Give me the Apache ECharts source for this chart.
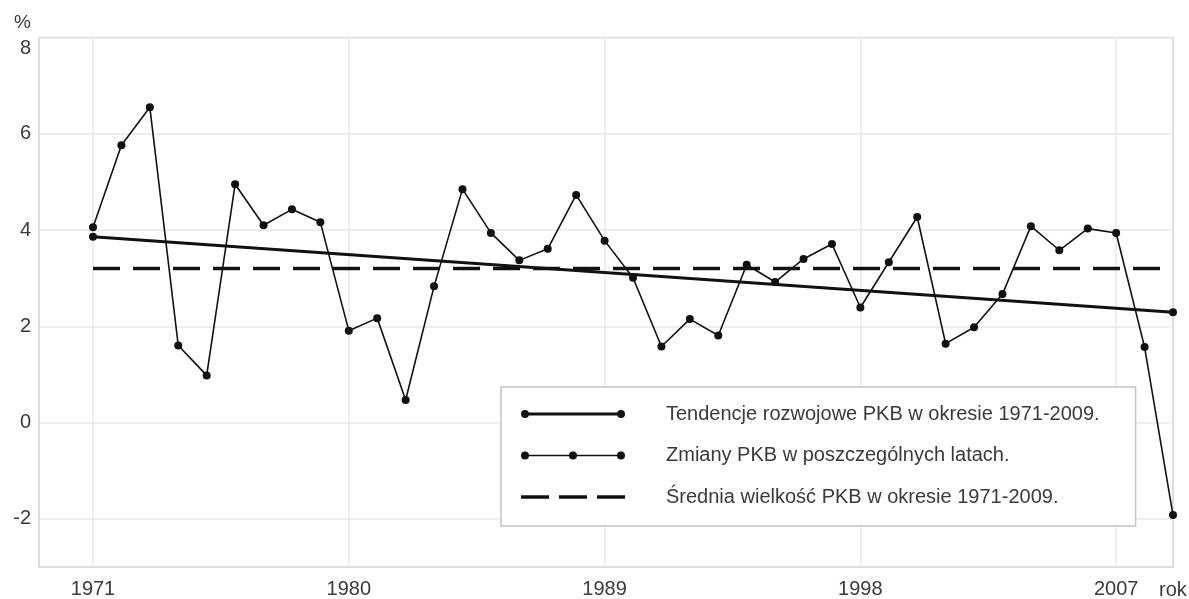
<!DOCTYPE html>
<html>
<head>
<meta charset="utf-8">
<title>PKB 1971-2009</title>
<script src="https://cdn.jsdelivr.net/npm/echarts@6/dist/echarts.min.js"></script>
<style>
  html, body { margin: 0; padding: 0; background: #fff; }
  #chart { width: 1189px; height: 599px; }
</style>
</head>
<body>
<div id="chart"></div>
<script>
// lata
const years = [1971, 1972, 1973, 1974, 1975, 1976, 1977, 1978, 1979, 1980,
  1981, 1982, 1983, 1984, 1985, 1986, 1987, 1988, 1989, 1990,
  1991, 1992, 1993, 1994, 1995, 1996, 1997, 1998, 1999, 2000,
  2001, 2002, 2003, 2004, 2005, 2006, 2007, 2008, 2009]

// Zmiany PKB w poszczególnych latach (%)
const gdpChange = [4.06, 5.76, 6.55, 1.60, 0.98, 4.95, 4.10, 4.43, 4.16, 1.91,
  2.17, 0.47, 2.83, 4.85, 3.94, 3.37, 3.61, 4.73, 3.78, 3.01,
  1.58, 2.15, 1.81, 3.28, 2.92, 3.40, 3.71, 2.39, 3.33, 4.27,
  1.64, 1.98, 2.67, 4.08, 3.58, 4.03, 3.94, 1.57, -1.92]

// tendencja (początek i koniec okresu)
const trendYears = [1971, 2009]
const trendValues = [3.86, 2.29]

// średnia
const meanYears = [1971, 2009]
const meanValue = 3.20

const xTicks = [1971, 1980, 1989, 1998, 2007]
const yTicks = [-2, 0, 2, 4, 6, 8]

const names = [
  'Tendencje rozwojowe PKB w okresie 1971-2009.',
  'Zmiany PKB w poszczególnych latach.',
  'Średnia wielkość PKB w okresie 1971-2009.'
]

const font = "'Liberation Sans', Arial, sans-serif"
const ink = '#111'
const labelColor = '#3a3a3a'

// ikony legendy (104 x 8)
const iconTrend = 'path://M0,4A4,4,0,1,1,8,4A4,4,0,1,1,0,4Z M4,2.5L100,2.5L100,5.5L4,5.5Z M96,4A4,4,0,1,1,104,4A4,4,0,1,1,96,4Z'
const iconYearly = 'path://M0,4A4,4,0,1,1,8,4A4,4,0,1,1,0,4Z M4,3.25L100,3.25L100,4.75L4,4.75Z M48,4A4,4,0,1,1,56,4A4,4,0,1,1,48,4Z M96,4A4,4,0,1,1,104,4A4,4,0,1,1,96,4Z'
const iconMean = 'path://M0,2.25L28,2.25L28,5.75L0,5.75Z M38,2.25L66,2.25L66,5.75L38,5.75Z M76,2.25L104,2.25L104,5.75L76,5.75Z'

const chart = echarts.init(document.getElementById('chart'))

chart.setOption({
  animation: false,
  backgroundColor: '#fff',
  textStyle: { fontFamily: font },
  grid: {
    left: 39, right: 16, top: 37.5, bottom: 32,
    show: true, borderColor: '#d2d2d2', borderWidth: 1.5
  },
  xAxis: {
    type: 'value',
    min: 1969.1,
    max: 2009,
    axisLine: { show: false },
    axisTick: { show: false, customValues: xTicks },
    axisLabel: {
      customValues: xTicks,
      formatter: v => String(v),
      color: labelColor, fontSize: 20, margin: 12, fontFamily: font
    },
    splitLine: { show: true, lineStyle: { color: '#e8e8e8', width: 1.5 } }
  },
  yAxis: {
    type: 'value',
    min: -3,
    max: 8,
    axisLine: { show: false },
    axisTick: { show: false, customValues: yTicks },
    axisLabel: {
      customValues: yTicks,
      // górna etykieta lekko obniżona jak w oryginale
      formatter: v => (v === 8 ? '{top|8}' : String(v)),
      rich: { top: { padding: [22, 0, 0, 0], fontSize: 20, color: labelColor } },
      color: labelColor, fontSize: 20, margin: 8, fontFamily: font
    },
    splitLine: { show: true, lineStyle: { color: '#e8e8e8', width: 1.5 } }
  },
  legend: {
    orient: 'vertical',
    left: 501,
    top: 387,
    padding: [15, 36, 17, 20],
    itemGap: 17.5,
    itemWidth: 104,
    itemHeight: 8,
    backgroundColor: '#fff',
    borderColor: '#c4c4c4',
    borderWidth: 1.5,
    borderRadius: 0,
    selectedMode: false,
    itemStyle: { color: ink, borderWidth: 0 },
    textStyle: {
      color: labelColor, fontSize: 20, lineHeight: 24,
      fontFamily: font, padding: [0, 0, 0, 36]
    },
    data: [
      { name: names[0], icon: iconTrend },
      { name: names[1], icon: iconYearly },
      { name: names[2], icon: iconMean }
    ]
  },
  graphic: [
    { type: 'text', left: 14, top: 13, style: { text: '%', fontSize: 19, fill: labelColor, fontFamily: font } },
    { type: 'text', left: 1159, top: 580, style: { text: 'rok', fontSize: 20, fill: labelColor, fontFamily: font } }
  ],
  series: [
    {
      name: names[0],
      type: 'line',
      data: trendYears.map((y, i) => [y, trendValues[i]]),
      symbol: 'circle',
      symbolSize: 8,
      color: ink,
      lineStyle: { color: ink, width: 3 },
      itemStyle: { color: ink, borderWidth: 0 },
      z: 3
    },
    {
      name: names[1],
      type: 'line',
      data: years.map((y, i) => [y, gdpChange[i]]),
      symbol: 'circle',
      symbolSize: 8,
      color: ink,
      lineStyle: { color: ink, width: 1.6 },
      itemStyle: { color: ink, borderWidth: 0 },
      z: 4
    },
    {
      name: names[2],
      type: 'line',
      data: meanYears.map(y => [y, meanValue]),
      symbol: 'none',
      color: ink,
      lineStyle: { color: ink, width: 3.5, type: [27, 13] },
      z: 2
    }
  ]
})
</script>
</body>
</html>
